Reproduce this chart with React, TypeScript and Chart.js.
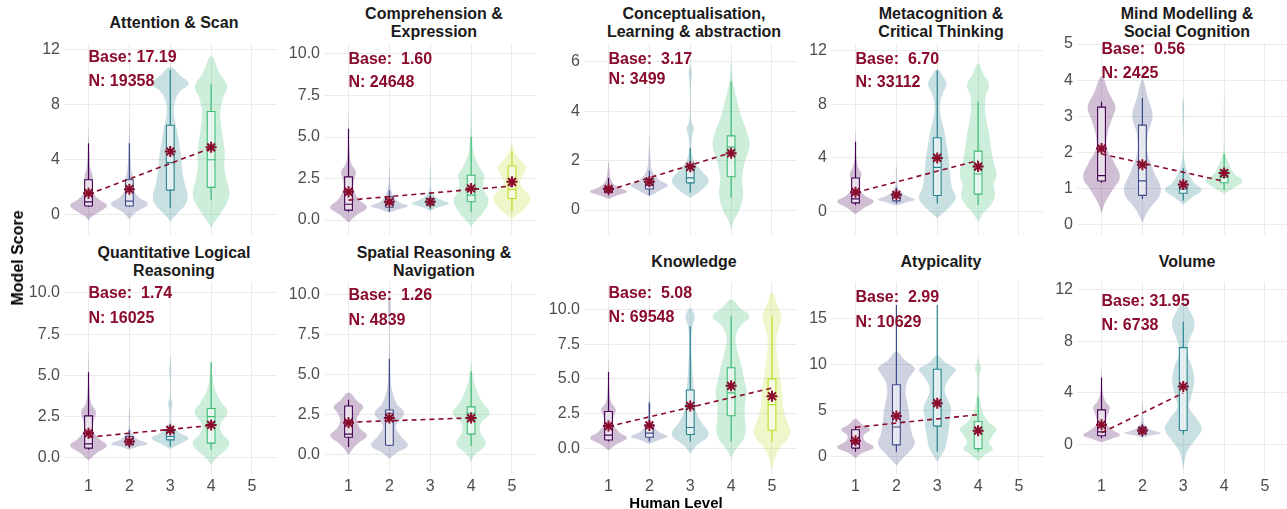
import React, { useEffect, useRef } from "react";
import { Chart, registerables } from "chart.js";

Chart.register(...registerables);

const FONT = '"Liberation Sans", Arial, Helvetica, sans-serif';
Chart.defaults.font.family = FONT;

type Profile = [number, number][];
type Violin = [number, Profile];
type Box = [number, number, number, number, number, number, number];

// ---------------- data ----------------
const LEVELS = [1, 2, 3, 4, 5];
const LEVEL_COLORS = ["#440154", "#3E4A89", "#26828E", "#3DBC74", "#BBDF27"];

const TITLES = [
  "Attention & Scan",
  "Comprehension &\nExpression",
  "Conceptualisation,\nLearning & abstraction",
  "Metacognition &\nCritical Thinking",
  "Mind Modelling &\nSocial Cognition",
  "Quantitative Logical\nReasoning",
  "Spatial Reasoning &\nNavigation",
  "Knowledge",
  "Atypicality",
  "Volume",
];
const BASE_VALUES = [17.19, 1.6, 3.17, 6.7, 0.56, 1.74, 1.26, 5.08, 2.99, 31.95];
const N_VALUES = [19358, 24648, 3499, 33112, 2425, 16025, 4839, 69548, 10629, 6738];

const Y_TICKS = [
  [0, 4, 8, 12],
  [0, 2.5, 5, 7.5, 10],
  [0, 2, 4, 6],
  [0, 4, 8, 12],
  [0, 1, 2, 3, 4, 5],
  [0, 2.5, 5, 7.5, 10],
  [0, 2.5, 5, 7.5, 10],
  [0, 2.5, 5, 7.5, 10],
  [0, 5, 10, 15],
  [0, 4, 8, 12],
];
const Y_DECIMALS = [0, 1, 0, 0, 0, 1, 1, 1, 0, 0];
const Y_MIN = [-1.45, -0.9, -1.01, -1.74, -0.3, -0.97, -1.19, -1.85, -1.92, -2.25];
const Y_MAX = [12.46, 10.66, 6.76, 12.55, 5.03, 10.66, 10.79, 11.98, 19.0, 12.56];
// data-y of the "Base" and "N" annotation lines
const LABEL_Y = [
  [11.4, 9.7],
  [9.66, 8.29],
  [6.08, 5.27],
  [11.3, 9.57],
  [4.84, 4.19],
  [9.96, 8.44],
  [9.96, 8.4],
  [11.16, 9.4],
  [17.3, 14.6],
  [11.08, 9.23],
];

// violins: [level, [[score, relative half-width], ...]]
const ATTN_VIOLINS: Violin[] = [
  [1, [[-0.4, 0], [-0.1, 0.2], [0.3, 0.7], [0.7, 1.0], [1.1, 0.6], [1.6, 0.25], [2.2, 0.18], [2.8, 0.22], [3.4, 0.1], [4.2, 0.05], [5.3, 0.02], [6.5, 0]]],
  [2, [[-0.3, 0], [0.2, 0.35], [0.8, 1.0], [1.3, 0.5], [1.9, 0.22], [2.6, 0.22], [3.2, 0.12], [4.2, 0.06], [5.5, 0.03], [7, 0]]],
  [3, [[-0.5, 0], [-0.2, 0.15], [0.2, 0.45], [0.7, 0.8], [1.3, 0.95], [2.2, 0.8], [3.2, 0.65], [4.2, 0.6], [5.2, 0.48], [6.2, 0.36], [7.3, 0.2], [8.2, 0.25], [8.9, 0.5], [9.5, 1.0], [10.1, 0.55], [10.7, 0]]],
  [4, [[-0.9, 0], [-0.3, 0.3], [0.3, 0.6], [1.0, 0.9], [1.6, 1.0], [2.5, 0.85], [3.5, 0.72], [4.5, 0.75], [5.5, 0.65], [6.5, 0.55], [7.5, 0.5], [8.5, 0.65], [9.3, 0.88], [10.3, 0.45], [11.5, 0]]],
];
const ATTN_BOXES: Box[] = [
  [1, 0.6, 0.65, 0.95, 2.55, 5.2, 1.58],
  [2, 0.6, 0.65, 1.0, 2.55, 5.2, 1.87],
  [3, 0.5, 1.8, 3.8, 6.5, 10.5, 4.6],
  [4, 1.1, 2.0, 4.0, 7.5, 9.5, 4.9],
];
const ATTN_TREND = [1, 1.5, 4, 4.85];

const COMP_VIOLINS: Violin[] = [
  [1, [[-0.15, 0], [0.3, 0.45], [0.75, 1.0], [1.2, 0.6], [1.8, 0.3], [2.4, 0.3], [2.9, 0.4], [3.4, 0.15], [4.2, 0.05], [5.5, 0.02], [6.5, 0]]],
  [2, [[0.45, 0], [0.65, 0.5], [0.85, 1.0], [1.1, 0.5], [1.5, 0.2], [1.9, 0.08], [2.6, 0.03], [3.4, 0]]],
  [3, [[0.55, 0], [0.75, 0.4], [1.0, 1.0], [1.2, 0.6], [1.5, 0.2], [1.9, 0.05], [2.6, 0.03], [3.4, 0]]],
  [4, [[-0.4, 0], [0, 0.3], [0.6, 0.75], [1.2, 0.95], [1.8, 0.7], [2.3, 0.65], [2.7, 0.72], [3.2, 0.45], [4, 0.15], [5, 0.06], [6.5, 0.02], [7.5, 0]]],
  [5, [[0.1, 0], [0.6, 0.6], [1.3, 1.0], [1.9, 0.6], [2.3, 0.45], [2.8, 0.65], [3.2, 0.78], [3.6, 0.45], [4.1, 0.15], [4.6, 0]]],
];
const COMP_BOXES: Box[] = [
  [1, 0.5, 0.6, 0.95, 2.6, 5.5, 1.7],
  [2, 0.5, 0.77, 1.0, 1.4, 1.8, 1.1],
  [3, 0.65, 0.9, 1.05, 1.3, 1.65, 1.1],
  [4, 0.5, 1.1, 1.5, 2.7, 5.0, 1.9],
  [5, 0.5, 1.3, 1.85, 3.25, 4.1, 2.3],
];
const COMP_TREND = [1, 1.2, 5, 2.05];

const CONC_VIOLINS: Violin[] = [
  [1, [[0.45, 0], [0.6, 0.5], [0.75, 1.0], [0.95, 0.45], [1.2, 0.15], [1.6, 0.05], [2.0, 0]]],
  [2, [[0.55, 0], [0.8, 0.6], [1.0, 1.0], [1.25, 0.5], [1.6, 0.15], [2.2, 0.05], [3.0, 0]]],
  [3, [[0.5, 0], [0.8, 0.6], [1.2, 1.0], [1.6, 0.6], [2.0, 0.2], [2.5, 0.06], [3.0, 0.1], [3.3, 0.2], [3.6, 0.06], [4.5, 0.02], [5.3, 0.06], [5.6, 0.08], [5.9, 0]]],
  [4, [[-0.8, 0], [-0.5, 0.1], [0, 0.45], [0.6, 0.65], [1.2, 0.6], [1.8, 0.7], [2.6, 1.0], [3.2, 0.85], [3.8, 0.55], [4.5, 0.3], [5.2, 0.1], [6.0, 0]]],
];
const CONC_BOXES: Box[] = [
  [1, 0.6, 0.72, 0.82, 0.92, 1.3, 0.85],
  [2, 0.6, 0.85, 1.0, 1.25, 1.6, 1.15],
  [3, 0.7, 1.1, 1.3, 1.8, 2.5, 1.75],
  [4, 0.5, 1.35, 2.55, 3.0, 5.2, 2.3],
];
const CONC_TREND = [1, 0.8, 4, 2.32];

const META_VIOLINS: Violin[] = [
  [1, [[-0.2, 0], [0.3, 0.5], [0.75, 1.0], [1.2, 0.5], [1.8, 0.2], [2.4, 0.25], [2.8, 0.32], [3.3, 0.15], [4.0, 0.05], [5.2, 0.02], [6, 0]]],
  [2, [[0.45, 0], [0.7, 0.55], [0.9, 1.0], [1.2, 0.5], [1.6, 0.15], [2.2, 0.04], [3.0, 0.03], [3.4, 0]]],
  [3, [[-0.5, 0], [0, 0.4], [0.6, 0.85], [1.1, 1.0], [1.8, 0.8], [2.8, 0.7], [4, 0.62], [5, 0.5], [6, 0.38], [7, 0.2], [8, 0.15], [8.8, 0.3], [9.5, 0.5], [10.1, 0.3], [10.6, 0]]],
  [4, [[-0.75, 0], [0, 0.35], [0.5, 0.7], [1.2, 0.92], [1.9, 0.85], [2.8, 1.0], [3.8, 0.82], [4.8, 0.7], [5.8, 0.6], [6.8, 0.45], [7.8, 0.38], [8.6, 0.42], [9.4, 0.6], [10.2, 0.3], [11, 0]]],
];
const META_BOXES: Box[] = [
  [1, 0.5, 0.65, 0.95, 2.5, 5.2, 1.45],
  [2, 0.6, 0.8, 1.05, 1.35, 1.8, 1.25],
  [3, 0.6, 1.2, 3.3, 5.5, 10.5, 4.0],
  [4, 0.5, 1.3, 2.8, 4.5, 8.2, 3.35],
];
const META_TREND = [1, 1.42, 4, 3.8];

const MIND_VIOLINS: Violin[] = [
  [1, [[0.3, 0], [0.6, 0.2], [0.95, 0.6], [1.3, 1.0], [1.7, 0.7], [2.1, 0.3], [2.5, 0.32], [2.9, 0.55], [3.25, 0.75], [3.65, 0.4], [4.1, 0]]],
  [2, [[0.05, 0], [0.4, 0.35], [0.9, 1.0], [1.5, 0.6], [2.0, 0.28], [2.5, 0.3], [3.0, 0.55], [3.5, 0.3], [4.0, 0]]],
  [3, [[0.55, 0], [0.75, 0.5], [0.95, 1.0], [1.15, 0.6], [1.5, 0.2], [1.9, 0.04], [2.6, 0.02], [3.2, 0.05], [3.5, 0]]],
  [4, [[0.85, 0], [1.0, 0.5], [1.2, 1.0], [1.4, 0.55], [1.7, 0.25], [2.0, 0.05], [2.8, 0.02], [3.7, 0]]],
];
const MIND_BOXES: Box[] = [
  [1, 1.15, 1.2, 1.35, 3.25, 3.4, 2.1],
  [2, 0.7, 0.8, 1.2, 2.75, 3.5, 1.65],
  [3, 0.65, 0.86, 0.97, 1.1, 1.55, 1.1],
  [4, 0.95, 1.15, 1.3, 1.5, 1.95, 1.42],
];
const MIND_TREND = [1, 1.95, 4, 1.19];

const QUANT_VIOLINS: Violin[] = [
  [1, [[-0.15, 0], [0.3, 0.45], [0.75, 1.0], [1.2, 0.55], [1.7, 0.25], [2.3, 0.3], [2.8, 0.4], [3.3, 0.15], [4.2, 0.05], [5.5, 0.02], [6.5, 0]]],
  [2, [[0.5, 0], [0.7, 0.5], [0.85, 1.0], [1.1, 0.5], [1.4, 0.2], [1.8, 0.05], [2.5, 0.03], [3.2, 0]]],
  [3, [[0.55, 0], [0.85, 0.5], [1.2, 1.0], [1.5, 0.55], [1.9, 0.15], [2.5, 0.04], [3.0, 0.08], [3.3, 0.12], [3.6, 0.04], [4.5, 0.02], [5.3, 0.06], [5.6, 0.04], [6.2, 0]]],
  [4, [[-0.4, 0], [0, 0.3], [0.85, 1.0], [1.5, 0.6], [2.0, 0.5], [2.8, 0.9], [3.4, 0.55], [4.2, 0.2], [5, 0.08], [5.8, 0]]],
];
const QUANT_BOXES: Box[] = [
  [1, 0.5, 0.6, 0.85, 2.55, 5.2, 1.5],
  [2, 0.6, 0.8, 1.0, 1.3, 1.7, 1.0],
  [3, 0.7, 1.1, 1.3, 1.6, 2.0, 1.7],
  [4, 0.5, 0.9, 2.5, 3.0, 5.8, 2.0],
];
const QUANT_TREND = [1, 1.26, 4, 1.97];

const SPAT_VIOLINS: Violin[] = [
  [1, [[0, 0], [0.4, 0.25], [0.8, 0.6], [1.2, 1.0], [1.7, 0.6], [2.2, 0.45], [2.6, 0.6], [3.0, 0.8], [3.4, 0.45], [3.9, 0]]],
  [2, [[-0.25, 0], [0.1, 0.35], [0.6, 1.0], [1.2, 0.6], [1.8, 0.35], [2.6, 0.8], [3.2, 0.4], [4, 0.15], [5, 0.06], [6.5, 0.03], [8, 0.02], [9.5, 0.08], [10, 0]]],
  [4, [[-0.4, 0], [0, 0.2], [0.7, 0.8], [1.4, 0.5], [2.0, 0.55], [2.6, 1.0], [3.3, 0.6], [4.2, 0.25], [5, 0.08], [5.8, 0]]],
];
const SPAT_BOXES: Box[] = [
  [1, 0.5, 1.1, 1.3, 3.05, 3.45, 2.0],
  [2, 0.55, 0.6, 2.6, 2.8, 6.0, 2.3],
  [4, 0.55, 1.3, 2.6, 3.0, 5.2, 2.3],
];
const SPAT_TREND = [1, 2.04, 4, 2.31];

const KNOW_VIOLINS: Violin[] = [
  [1, [[-0.15, 0], [0.3, 0.45], [0.75, 1.0], [1.2, 0.55], [1.8, 0.25], [2.4, 0.3], [2.8, 0.4], [3.3, 0.15], [4.2, 0.05], [5.5, 0.02], [6.5, 0]]],
  [2, [[0.3, 0], [0.6, 0.5], [0.85, 1.0], [1.2, 0.5], [1.7, 0.18], [2.3, 0.06], [3.0, 0.08], [3.5, 0.03], [5, 0]]],
  [3, [[-0.4, 0], [0.2, 0.35], [1.0, 1.0], [2.0, 0.55], [3.0, 0.25], [4.0, 0.2], [5.0, 0.15], [6.0, 0.1], [7.5, 0.06], [8.8, 0.12], [9.5, 0.25], [10.1, 0]]],
  [4, [[-0.7, 0], [0, 0.3], [0.6, 0.65], [1.3, 0.8], [2.2, 0.75], [3.2, 0.75], [4.0, 0.85], [5.0, 0.7], [6.0, 0.55], [7.0, 0.35], [8.0, 0.25], [8.8, 0.5], [9.5, 1.0], [10.1, 0.5], [10.7, 0]]],
  [5, [[-1.6, 0], [-1, 0.1], [0, 0.4], [0.6, 0.8], [1.2, 1.0], [2.0, 0.8], [3, 0.6], [4, 0.55], [5, 0.45], [6, 0.35], [7, 0.25], [8, 0.25], [9, 0.45], [9.5, 0.5], [10.3, 0.3], [11.2, 0]]],
];
const KNOW_BOXES: Box[] = [
  [1, 0.5, 0.6, 0.95, 2.65, 5.5, 1.6],
  [2, 0.5, 0.8, 1.1, 1.7, 3.3, 1.65],
  [3, 0.5, 1.0, 1.5, 4.2, 8.8, 3.05],
  [4, 0.5, 2.35, 4.0, 5.8, 9.5, 4.5],
  [5, 0.5, 1.3, 3.15, 5.0, 9.5, 3.75],
];
const KNOW_TREND = [1, 1.57, 5, 4.34];

const ATYP_VIOLINS: Violin[] = [
  [1, [[-0.2, 0], [0.3, 0.3], [1.0, 1.0], [1.7, 0.5], [2.3, 0.45], [2.9, 0.78], [3.5, 0.35], [4.1, 0]]],
  [2, [[-1.0, 0], [-0.3, 0.3], [0.5, 0.7], [1.4, 1.0], [2.4, 0.85], [3.4, 0.75], [4.6, 0.7], [5.8, 0.6], [7, 0.5], [8.2, 0.6], [9.0, 0.85], [9.6, 1.0], [10.5, 0.45], [11.4, 0]]],
  [3, [[-0.6, 0], [0.2, 0.25], [1.0, 0.45], [2.0, 0.55], [3.2, 0.65], [4.3, 0.7], [5.3, 0.75], [6.3, 0.55], [7.3, 0.4], [8.3, 0.6], [9.0, 0.85], [9.5, 1.0], [10.2, 0.45], [11, 0]]],
  [4, [[-0.5, 0], [0.2, 0.4], [0.8, 0.8], [1.5, 0.6], [2.3, 0.8], [3.0, 1.0], [3.8, 0.55], [4.8, 0.25], [6, 0.1], [7.5, 0.05], [9, 0.08], [9.5, 0.18], [10.3, 0.05], [10.8, 0]]],
];
const ATYP_BOXES: Box[] = [
  [1, 0.5, 0.9, 1.4, 2.9, 3.3, 1.7],
  [2, 0.5, 1.25, 3.2, 7.8, 16.5, 4.4],
  [3, 0.5, 3.3, 5.8, 9.5, 16.5, 5.8],
  [4, 0.5, 0.85, 2.8, 3.8, 6.5, 2.8],
];
const ATYP_TREND = [1, 3.17, 4, 4.55];

const VOL_VIOLINS: Violin[] = [
  [1, [[0.2, 0], [0.45, 0.5], [0.75, 1.0], [1.2, 0.55], [1.7, 0.25], [2.4, 0.35], [2.9, 0.45], [3.4, 0.2], [4.2, 0.05], [5.2, 0.02], [5.8, 0]]],
  [2, [[0.55, 0], [0.75, 0.5], [0.9, 1.0], [1.15, 0.5], [1.5, 0.15], [2.2, 0.04], [2.8, 0.03], [3.5, 0]]],
  [3, [[-1.85, 0], [-1.2, 0.08], [-0.4, 0.25], [0.4, 0.65], [1.2, 1.0], [2.0, 0.75], [2.9, 0.32], [3.8, 0.45], [5.0, 0.6], [6.0, 0.48], [7.2, 0.2], [8.1, 0.35], [9.3, 0.62], [10.2, 0.4], [11, 0]]],
];
const VOL_BOXES: Box[] = [
  [1, 0.5, 0.7, 1.0, 2.7, 5.2, 1.55],
  [2, 0.6, 0.85, 1.05, 1.35, 1.6, 1.1],
  [3, 0.8, 1.1, 4.5, 7.5, 9.5, 4.5],
];
const VOL_TREND = [1, 0.93, 3, 3.99];

const VIOLINS = [ATTN_VIOLINS, COMP_VIOLINS, CONC_VIOLINS, META_VIOLINS, MIND_VIOLINS, QUANT_VIOLINS, SPAT_VIOLINS, KNOW_VIOLINS, ATYP_VIOLINS, VOL_VIOLINS];
const BOXES = [ATTN_BOXES, COMP_BOXES, CONC_BOXES, META_BOXES, MIND_BOXES, QUANT_BOXES, SPAT_BOXES, KNOW_BOXES, ATYP_BOXES, VOL_BOXES];
const TRENDS = [ATTN_TREND, COMP_TREND, CONC_TREND, META_TREND, MIND_TREND, QUANT_TREND, SPAT_TREND, KNOW_TREND, ATYP_TREND, VOL_TREND];

// ---------------- layout & style ----------------
const COL_LEFT = [64, 324, 584, 831, 1077];
const ROW_TOP = [43, 282];
const PLOT_W = 220;
const PLOT_H = 192;
const AXIS_W = 46;
const PAD_T = 14;
const PAD_B = 10;
const XAXIS_H = 26;
const STRIP_CENTER = [23, 262];

const VIOLIN_HALF = 0.45;
const BOX_HALF = 0.095;
const ACCENT = "#8A0B2B";
const GRID = "#EBEBEB";
const TICK_COLOR = "#4D4D4D";

function rgba(hex: string, a: number) {
  const n = parseInt(hex.slice(1), 16);
  return `rgba(${(n >> 16) & 255},${(n >> 8) & 255},${n & 255},${a})`;
}

function buildDatasets(i: number) {
  const ds: any[] = [];
  for (const [level, profile] of VIOLINS[i]) {
    const c = LEVEL_COLORS[level - 1];
    const right = profile.map(([v, w]) => ({ x: level + w * VIOLIN_HALF, y: v }));
    const left = profile
      .slice(0, -1)
      .reverse()
      .map(([v, w]) => ({ x: level - w * VIOLIN_HALF, y: v }));
    ds.push({
      data: [...right, ...left],
      fill: "shape",
      backgroundColor: rgba(c, 0.25),
      borderColor: "rgba(0,0,0,0)",
      borderWidth: 0,
      pointRadius: 0,
      tension: 0.4,
      order: 40,
    });
  }
  for (const [level, lo, q1, med, q3, hi] of BOXES[i]) {
    const c = LEVEL_COLORS[level - 1];
    ds.push({
      data: [
        { x: level - BOX_HALF, y: q1 },
        { x: level + BOX_HALF, y: q1 },
        { x: level + BOX_HALF, y: q3 },
        { x: level - BOX_HALF, y: q3 },
        { x: level - BOX_HALF, y: q1 },
      ],
      fill: "shape",
      backgroundColor: "rgba(255,255,255,0.55)",
      borderColor: c,
      borderWidth: 1.1,
      pointRadius: 0,
      tension: 0,
      order: 30,
    });
    ds.push({
      data: [
        { x: level, y: lo },
        { x: level, y: q1 },
        { x: level, y: null },
        { x: level, y: q3 },
        { x: level, y: hi },
        { x: level, y: null },
        { x: level - BOX_HALF, y: med },
        { x: level + BOX_HALF, y: med },
      ],
      fill: false,
      borderColor: c,
      borderWidth: 1.2,
      pointRadius: 0,
      spanGaps: false,
      tension: 0,
      order: 25,
    });
  }
  const [x0, y0, x1, y1] = TRENDS[i];
  ds.push({
    data: [
      { x: x0, y: y0 },
      { x: x1, y: y1 },
    ],
    fill: false,
    borderColor: ACCENT,
    borderWidth: 1.6,
    borderDash: [5, 4],
    pointRadius: 0,
    order: 20,
  });
  ds.push({
    data: BOXES[i].map((b) => ({ x: b[0], y: b[6] })),
    showLine: false,
    fill: false,
    pointStyle: "star",
    pointRadius: 5.5,
    pointBorderColor: ACCENT,
    pointBackgroundColor: ACCENT,
    pointBorderWidth: 2,
    order: 10,
  });
  return ds;
}

function textPlugin(i: number) {
  return {
    id: "panelText",
    afterDatasetsDraw(chart: any) {
      const { ctx } = chart;
      const xs = chart.scales.x;
      const ys = chart.scales.y;
      ctx.save();
      ctx.font = `bold 16px ${FONT}`;
      ctx.fillStyle = ACCENT;
      ctx.textAlign = "left";
      ctx.textBaseline = "middle";
      const px = xs.getPixelForValue(1);
      ctx.fillText(`Base: ${BASE_VALUES[i].toFixed(2).padStart(5, " ")}`, px, ys.getPixelForValue(LABEL_Y[i][0]));
      ctx.fillText(`N: ${N_VALUES[i]}`, px, ys.getPixelForValue(LABEL_Y[i][1]));
      ctx.restore();
    },
  };
}

function Panel({ index }: { index: number }) {
  const ref = useRef<HTMLCanvasElement>(null);
  const col = index % 5;
  const row = Math.floor(index / 5);
  const bottom = row === 1;
  const width = AXIS_W + PLOT_W;
  const height = PAD_T + PLOT_H + (bottom ? XAXIS_H : PAD_B);

  useEffect(() => {
    const yTicks = Y_TICKS[index];
    const dec = Y_DECIMALS[index];
    const chart = new Chart(ref.current as HTMLCanvasElement, {
      type: "line",
      data: { datasets: buildDatasets(index) },
      options: {
        responsive: false,
        animation: false,
        events: [],
        layout: { padding: { top: PAD_T, bottom: bottom ? 0 : PAD_B, left: 0, right: 0 } },
        plugins: { legend: { display: false }, tooltip: { enabled: false } },
        scales: {
          x: {
            type: "linear",
            min: 0.4,
            max: 5.6,
            afterBuildTicks: (s: any) => {
              s.ticks = LEVELS.map((v) => ({ value: v }));
            },
            afterFit: (s: any) => {
              s.height = bottom ? XAXIS_H : 0;
              s.paddingLeft = 0;
              s.paddingRight = 0;
            },
            grid: { color: GRID, lineWidth: 1, drawTicks: false },
            border: { display: false },
            ticks: {
              display: bottom,
              padding: 3,
              color: TICK_COLOR,
              font: { size: 16 },
              maxRotation: 0,
              autoSkip: false,
              callback: (v: any) => String(v),
            },
          },
          y: {
            type: "linear",
            min: Y_MIN[index],
            max: Y_MAX[index],
            afterBuildTicks: (s: any) => {
              s.ticks = yTicks.map((v) => ({ value: v }));
            },
            afterFit: (s: any) => {
              s.width = AXIS_W;
              s.paddingTop = 0;
              s.paddingBottom = 0;
            },
            grid: { color: GRID, lineWidth: 1, drawTicks: false },
            border: { display: false },
            ticks: {
              padding: 4,
              color: TICK_COLOR,
              font: { size: 16 },
              autoSkip: false,
              callback: (v: any) => Number(v).toFixed(dec),
            },
          },
        },
      } as any,
      plugins: [textPlugin(index)],
    });
    return () => chart.destroy();
  }, [index]);

  return (
    <canvas
      ref={ref}
      width={width}
      height={height}
      style={{ position: "absolute", left: COL_LEFT[col] - AXIS_W, top: ROW_TOP[row] - PAD_T, width, height }}
    />
  );
}

export default function App() {
  return (
    <div
      style={{
        position: "absolute",
        left: 0,
        top: 0,
        width: 1287,
        height: 509,
        overflow: "hidden",
        background: "#ffffff",
        fontFamily: FONT,
      }}
    >
      {TITLES.map((t, i) => (
        <div
          key={"title" + i}
          style={{
            position: "absolute",
            left: COL_LEFT[i % 5],
            width: PLOT_W,
            top: STRIP_CENTER[Math.floor(i / 5)] - 20,
            height: 40,
            display: "flex",
            alignItems: "center",
            justifyContent: "center",
            textAlign: "center",
            whiteSpace: "pre-line",
            fontWeight: "bold",
            fontSize: 16,
            lineHeight: "18px",
            color: "#1A1A1A",
          }}
        >
          {t}
        </div>
      ))}
      {TITLES.map((_, i) => (
        <Panel key={"panel" + i} index={i} />
      ))}
      <div
        style={{
          position: "absolute",
          left: 18,
          top: 258,
          transform: "translate(-50%, -50%) rotate(-90deg)",
          fontWeight: "bold",
          fontSize: 16,
          whiteSpace: "nowrap",
          color: "#000",
        }}
      >
        Model Score
      </div>
      <div
        style={{
          position: "absolute",
          left: 676,
          top: 502,
          transform: "translate(-50%, -50%)",
          fontWeight: "bold",
          fontSize: 15,
          whiteSpace: "nowrap",
          color: "#000",
        }}
      >
        Human Level
      </div>
    </div>
  );
}
